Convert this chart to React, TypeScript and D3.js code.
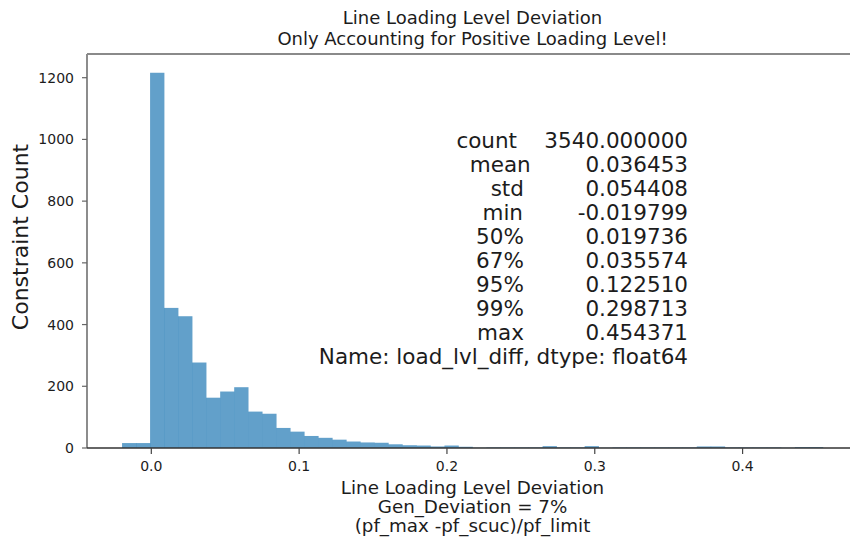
import React from "react";
import * as d3 from "d3";

// ---- data ----
const dataMin = -0.019799;
const dataMax = 0.454371;
const binCount = 50;
const binCounts = [
  16, 16, 1216, 454, 427, 277, 163, 183, 197, 118,
  111, 65, 53, 39, 33, 27, 21, 18, 17, 12,
  9, 8, 5, 8, 4, 1, 2, 2, 2, 2,
  6, 2, 2, 6, 1, 2, 2, 2, 2, 2,
  2, 5, 5, 2, 2, 2, 2, 1, 3, 3,
];
const yTicks = [0, 200, 400, 600, 800, 1000, 1200];
const xTicks = [0.0, 0.1, 0.2, 0.3, 0.4];
const titleLines = [
  "Line Loading Level Deviation",
  "Only Accounting for Positive Loading Level!",
];
const xLabelLines = [
  "Line Loading Level Deviation",
  "Gen_Deviation = 7%",
  "(pf_max -pf_scuc)/pf_limit",
];
const yLabel = "Constraint Count";
const statsLines = [
  "count    3540.000000",
  "mean        0.036453",
  "std         0.054408",
  "min        -0.019799",
  "50%         0.019736",
  "67%         0.035574",
  "95%         0.122510",
  "99%         0.298713",
  "max         0.454371",
  "Name: load_lvl_diff, dtype: float64",
];

const W = 850;
const H = 539;
const FONT = "DejaVu Sans, sans-serif";
const TXT = "#1c1c1c";

export default function App() {
  const binW = (dataMax - dataMin) / binCount;
  const bins = binCounts.map((c, i) => ({
    x0: dataMin + i * binW,
    x1: dataMin + (i + 1) * binW,
    c,
  }));
  const range = dataMax - dataMin;
  const x = d3
    .scaleLinear()
    .domain([dataMin - 0.05 * range, dataMax + 0.05 * range])
    .range([87, 858]);
  const yMax = (d3.max(binCounts) as number) * 1.05;
  const y = d3.scaleLinear().domain([0, yMax]).range([448, 54]);

  const left = x.range()[0];
  const right = x.range()[1];
  const top = y.range()[1];
  const bottom = y.range()[0];

  return (
    <svg
      width={W}
      height={H}
      viewBox={`0 0 ${W} ${H}`}
      style={{ position: "absolute", left: 0, top: 0, background: "#fff" }}
      fontFamily={FONT}
    >
      <rect x={0} y={0} width={W} height={H} fill="#fff" />
      {/* bars */}
      {bins.map((b, i) =>
        b.c > 0 ? (
          <rect
            key={i}
            x={x(b.x0)}
            y={y(b.c)}
            width={x(b.x1) - x(b.x0) + 0.3}
            height={bottom - y(b.c)}
            fill="#1f77b4"
            fillOpacity={0.7}
          />
        ) : null
      )}
      {/* spines */}
      <line x1={left} x2={left} y1={top} y2={bottom} stroke="#808080" strokeWidth={1.8} />
      <line x1={left} x2={W} y1={top} y2={top} stroke="#8a8a8a" strokeWidth={1.8} />
      <line x1={left} x2={W} y1={bottom} y2={bottom} stroke="#333" strokeWidth={1.6} />
      {/* y ticks */}
      {yTicks.map((t) => (
        <g key={"y" + t}>
          <line x1={left - 5} x2={left} y1={y(t)} y2={y(t)} stroke="#666" strokeWidth={1.2} />
          <text
            x={left - 13}
            y={y(t)}
            dy="0.36em"
            textAnchor="end"
            fontSize={14}
            fill={TXT}
          >
            {t}
          </text>
        </g>
      ))}
      {/* x ticks */}
      {xTicks.map((t) => (
        <g key={"x" + t}>
          <line x1={x(t)} x2={x(t)} y1={bottom} y2={bottom + 6} stroke="#444" strokeWidth={1.2} />
          <text x={x(t)} y={471} textAnchor="middle" fontSize={14} fill={TXT}>
            {d3.format(".1f")(t)}
          </text>
        </g>
      ))}
      {/* title */}
      {titleLines.map((s, i) => (
        <text
          key={"t" + i}
          x={(left + right) / 2}
          y={23.5 + i * 21}
          textAnchor="middle"
          fontSize={18}
          fill={TXT}
        >
          {s}
        </text>
      ))}
      {/* x label */}
      {xLabelLines.map((s, i) => (
        <text
          key={"xl" + i}
          x={(left + right) / 2}
          y={494 + i * 19}
          textAnchor="middle"
          fontSize={18.3}
          fill={TXT}
        >
          {s}
        </text>
      ))}
      {/* y label */}
      <text
        transform={`translate(28,237) rotate(-90)`}
        textAnchor="middle"
        fontSize={22}
        fill={TXT}
      >
        {yLabel}
      </text>
      {/* stats text */}
      {statsLines.map((s, i) => (
        <text
          key={"s" + i}
          x={688}
          y={147.5 + i * 24.1}
          textAnchor="end"
          fontSize={21.5}
          fill={TXT}
          style={{ whiteSpace: "pre" }}
          xmlSpace="preserve"
        >
          {s}
        </text>
      ))}
    </svg>
  );
}
